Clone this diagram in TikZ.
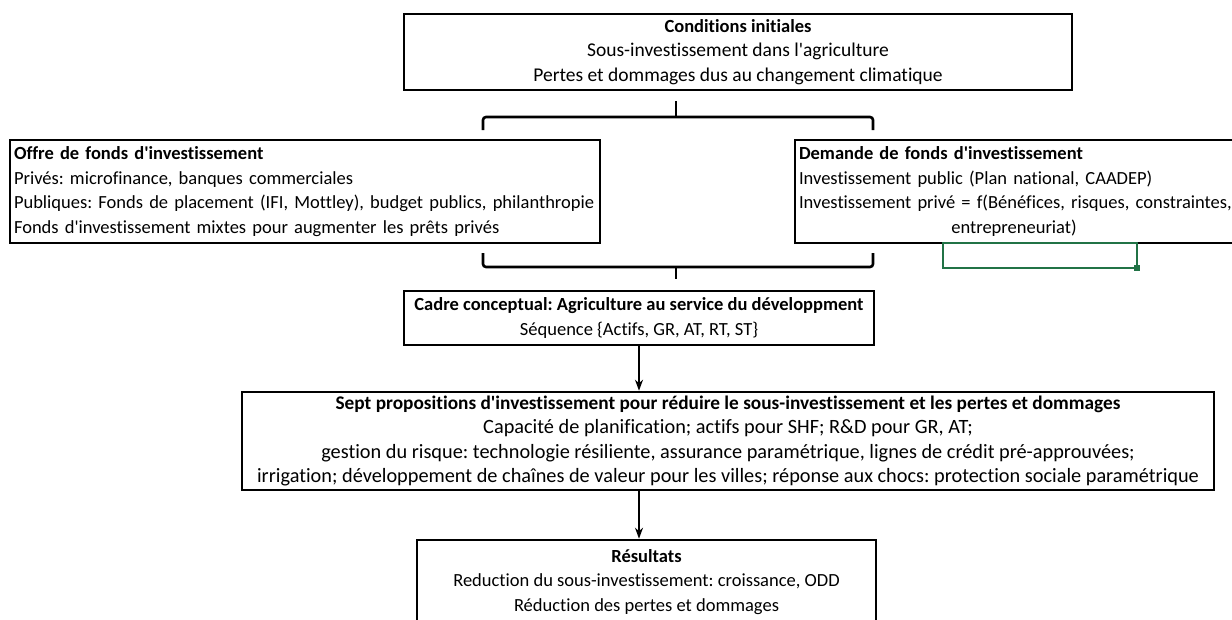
\documentclass[tikz,border=0pt]{standalone}
\usepackage{fontspec}
\setmainfont{Carlito}[Ligatures={TeXOff,CommonOff}]
\usetikzlibrary{arrows.meta}
\definecolor{xlgreen}{RGB}{33,115,70}
\frenchspacing
\begin{document}
\begin{tikzpicture}[x=1pt,y=-1pt,
  box/.style={draw=black,line width=2.6pt,inner sep=0pt,
    font=\fontsize{18.5}{24.5}\selectfont},
  cbox/.style={box,align=center},
  lbox/.style={box,align=left,inner xsep=4pt},
  brace/.style={draw=black,line width=2.6pt,rounded corners=3pt},
  arr/.style={draw=black,line width=2.2pt,-{Stealth[length=11pt,width=8pt]}},
  sel/.style={draw=xlgreen,line width=2pt}
]
\useasboundingbox (0,0) rectangle (1232,619);
\fill[white] (0,0) rectangle (1232,619);

% top box
\node[cbox,minimum width=668pt,minimum height=76pt] (init) at (738,52)
  {\textbf{Conditions initiales}\\{\fontsize{19.5}{24.5}\selectfont Sous-investissement dans l'agriculture}\\{\fontsize{19.5}{24.5}\selectfont Pertes et dommages dus au changement climatique}};

% upper brace
\coordinate (ub1) at (483,130);
\coordinate (ub2) at (873,130);
\coordinate (ubt) at (676,101);
\draw[brace] (ub1) -- (483,117) -- (873,117) -- (ub2);
\draw[brace] (676,117) -- (ubt);

% left box
\node[lbox,text width=582pt,minimum height=103pt] (offre) at (305,191.5)
  {\textbf{Offre de fonds d'investissement}\\Privés: microfinance, banques commerciales\\Publiques: Fonds de placement (IFI, Mottley), budget publics, philanthropie\\Fonds d'investissement mixtes pour augmenter les prêts privés};

% right box (extends beyond the right edge)
\node[lbox,text width=441pt,minimum height=103pt] (dem) at (1019.5,191.5)
  {\textbf{Demande de fonds d'investissement}\\Investissement public (Plan national, CAADEP)\\Investissement privé = f(Bénéfices, risques, constraintes,\\\makebox[430pt][c]{entrepreneuriat)}};

% green selection
\draw[sel] (943,243) rectangle (1137,268);
\fill[xlgreen] (1134,265) rectangle (1140,271);

% lower brace
\coordinate (lb1) at (483,253);
\coordinate (lb2) at (873,253);
\coordinate (lbt) at (676,279);
\draw[brace] (lb1) -- (483,267) -- (873,267) -- (lb2);
\draw[brace] (676,267) -- (lbt);

% conceptual framework
\node[cbox,minimum width=470pt,minimum height=54pt] (cadre) at (639,318)
  {\textbf{Cadre conceptual: Agriculture au service du développment}\\Séquence \{Actifs, GR, AT, RT, ST\}};

% seven propositions
\node[cbox,minimum width=972pt,minimum height=98pt,
      font=\fontsize{20.3}{24.5}\selectfont] (sept) at (728,441)
  {{\fontsize{19.3}{24.5}\selectfont\textbf{Sept propositions d'investissement pour réduire le sous-investissement et les pertes et dommages}}\\Capacité de planification; actifs pour SHF; R\&D pour GR, AT;\\gestion du risque: technologie résiliente, assurance paramétrique, lignes de crédit pré-approuvées;\\irrigation; développement de chaînes de valeur pour les villes; réponse aux chocs: protection sociale paramétrique};

% results (cut by the bottom edge)
\node[cbox,minimum width=459pt,minimum height=84pt] (res) at (646.5,582)
  {\textbf{Résultats}\\Reduction du sous-investissement: croissance, ODD\\Réduction des pertes et dommages};

\draw[arr] (cadre.south) -- (cadre.south |- sept.north);
\draw[arr] (cadre.south |- sept.south) -- (cadre.south |- res.north);
\end{tikzpicture}
\end{document}
